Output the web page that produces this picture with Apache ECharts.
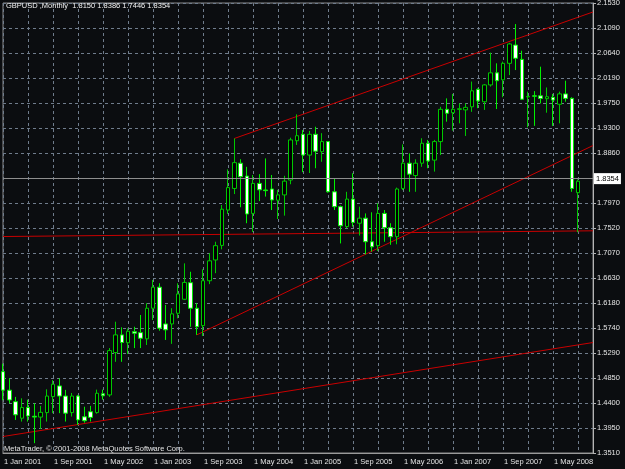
<!DOCTYPE html>
<html>
<head>
<meta charset="utf-8">
<title>GBPUSD Monthly</title>
<script src="https://cdn.jsdelivr.net/npm/echarts@6/dist/echarts.min.js"></script>
<style>
  html, body { margin: 0; padding: 0; background: #0b0d10; }
  #chart { width: 625px; height: 469px; }
</style>
</head>
<body>
<div id="chart"></div>
<script>
// monthly candles, Jan 2001 .. Sep 2008 (index = months since Jan 2001)
const opens = [
  1.4960, 1.4630, 1.4425, 1.4130, 1.4320, 1.4165, 1.4150, 1.4230, 1.4515, 1.4705, 1.4525, 1.4230,
  1.4525, 1.4155, 1.4245, 1.4230, 1.4565, 1.4545, 1.5300, 1.5615, 1.5475, 1.5672, 1.5655, 1.5545,
  1.6090, 1.6465, 1.5810, 1.5810, 1.6000, 1.6250, 1.6545, 1.6090, 1.5780, 1.6580, 1.6950, 1.7210,
  1.7840, 1.8225, 1.8675, 1.8445, 1.7780, 1.8315, 1.8198, 1.8215, 1.8015, 1.8110, 1.8375, 1.9075,
  1.9190, 1.8820, 1.9190, 1.8880, 1.9060, 1.8165, 1.7900, 1.7545, 1.8035, 1.7605, 1.7695, 1.7275,
  1.7205, 1.7780, 1.7525, 1.7365, 1.8225, 1.8675, 1.8455, 1.8675, 1.9030, 1.8730, 1.9060, 1.9635,
  1.9575, 1.9635, 1.9625, 1.9680, 1.9990, 1.9770, 2.0070, 2.0285, 2.0160, 2.0455, 2.0780, 2.0525,
  1.9855, 1.9875, 1.9875, 1.9825, 1.9850, 1.9725, 1.9910, 1.9830, 1.8150,
];
const closes = [
  1.4630, 1.4455, 1.4190, 1.4320, 1.4170, 1.4150, 1.4235, 1.4525, 1.4735, 1.4525, 1.4220, 1.4525,
  1.4100, 1.4085, 1.4145, 1.4575, 1.4530, 1.5335, 1.5615, 1.5480, 1.5680, 1.5645, 1.5555, 1.6090,
  1.6465, 1.5735, 1.5705, 1.5990, 1.6345, 1.6550, 1.6090, 1.5760, 1.6580, 1.6935, 1.7205, 1.7855,
  1.8240, 1.8685, 1.8435, 1.7770, 1.8315, 1.8200, 1.8186, 1.8020, 1.8110, 1.8355, 1.9090, 1.9165,
  1.8820, 1.9190, 1.8890, 1.9060, 1.8165, 1.7900, 1.7560, 1.8035, 1.7620, 1.7695, 1.7275, 1.7185,
  1.7780, 1.7525, 1.7365, 1.8215, 1.8675, 1.8480, 1.8675, 1.9030, 1.8715, 1.9060, 1.9635, 1.9565,
  1.9635, 1.9645, 1.9670, 1.9965, 1.9785, 2.0070, 2.0285, 2.0145, 2.0455, 2.0800, 2.0545, 1.9815,
  1.9865, 1.9870, 1.9830, 1.9860, 1.9800, 1.9910, 1.9830, 1.8225, 1.8354,
];
const lows = [
  1.4450, 1.4395, 1.4100, 1.4070, 1.4070, 1.3685, 1.3940, 1.4070, 1.4220, 1.4220, 1.4070, 1.4160,
  1.4010, 1.4050, 1.4070, 1.4210, 1.4460, 1.4510, 1.5135, 1.5135, 1.5275, 1.5380, 1.5380, 1.5435,
  1.5880, 1.5690, 1.5525, 1.5455, 1.5910, 1.6235, 1.5760, 1.5615, 1.5595, 1.6520, 1.6715, 1.7140,
  1.7770, 1.8125, 1.7890, 1.7605, 1.7450, 1.8000, 1.8080, 1.7840, 1.7680, 1.7740, 1.8300, 1.9000,
  1.8515, 1.8500, 1.8585, 1.8700, 1.8150, 1.7840, 1.7245, 1.7515, 1.7545, 1.7385, 1.7050, 1.7100,
  1.7110, 1.7275, 1.7220, 1.7230, 1.8195, 1.8165, 1.8165, 1.8610, 1.8585, 1.8525, 1.8820, 1.9415,
  1.9255, 1.9385, 1.9160, 1.9590, 1.9655, 1.9625, 2.0040, 1.9640, 1.9850, 2.0245, 2.0335, 1.9800,
  1.9315, 1.9340, 1.9740, 1.9575, 1.9340, 1.9385, 1.9770, 1.8165, 1.7446,
];
const highs = [
  1.5100, 1.4840, 1.4510, 1.4485, 1.4460, 1.4395, 1.4350, 1.4645, 1.4810, 1.4840, 1.4635, 1.4580,
  1.4545, 1.4335, 1.4350, 1.4640, 1.4640, 1.5380, 1.5850, 1.5750, 1.5730, 1.5760, 1.5970, 1.6180,
  1.6595, 1.6535, 1.6150, 1.6090, 1.6535, 1.6890, 1.6740, 1.6180, 1.6785, 1.7070, 1.7275, 1.7930,
  1.8565, 1.9115, 1.8745, 1.8610, 1.8465, 1.8480, 1.8760, 1.8465, 1.8200, 1.8450, 1.9130, 1.9545,
  1.9265, 1.9250, 1.9325, 1.9210, 1.9065, 1.8405, 1.7920, 1.8165, 1.8495, 1.7900, 1.7780, 1.7800,
  1.7960, 1.7840, 1.7605, 1.8240, 1.9010, 1.8850, 1.8745, 1.9120, 1.9090, 1.9090, 1.9680, 1.9830,
  1.9910, 1.9740, 1.9740, 2.0130, 2.0010, 2.0085, 2.0645, 2.0455, 2.0485, 2.0820, 2.1155, 2.0680,
  1.9950, 1.9960, 2.0395, 2.0025, 1.9910, 1.9950, 2.0145, 1.9850, 1.8386,
];

// axis labels
const xTickLabels = [
  '1 Jan 2001', '1 Sep 2001', '1 May 2002', '1 Jan 2003', '1 Sep 2003', '1 May 2004',
  '1 Jan 2005', '1 Sep 2005', '1 May 2006', '1 Jan 2007', '1 Sep 2007', '1 May 2008',
];
const yTickLabels = [
  '1.3510', '1.3950', '1.4400', '1.4850', '1.5290', '1.5740', '1.6180', '1.6630', '1.7070', '1.7520',
  '1.7970', '1.8410', '1.8860', '1.9300', '1.9750', '2.0190', '2.0640', '2.1090', '2.1530',
];

// trend lines, [month index, price]
const upperChannel = [[37, 1.9115], [94.4, 2.1370]];
const lowerChannel = [[31, 1.5615], [94.4, 1.8990]];
const flatLine = [[0, 1.7368], [94.4, 1.7470]];
const longSupport = [[0, 1.3804], [94.4, 1.5479]];

const lastPrice = 1.8354;

const FONT = 'Liberation Sans';
const TEXT = '#e4e4e4';
const GRID_LINE = {color: '#6f7c8c', type: [3, 3], width: 1};

const candles = opens.map((o, i) => [i, o, closes[i], lows[i], highs[i]]);

function trendSeries(data) {
  return {
    type: 'line',
    data: data,
    xAxisIndex: 0,
    yAxisIndex: 0,
    symbol: 'none',
    silent: true,
    animation: false,
    z: 3,
    lineStyle: {color: '#c80000', width: 1},
  };
}

const chart = echarts.init(document.getElementById('chart'));

const option = {
  backgroundColor: '#0b0d10',
  animation: false,
  title: [
    {
      text: 'GBPUSD ,Monthly  1.8150 1.8386 1.7446 1.8354',
      left: 6,
      top: 2,
      padding: 0,
      textStyle: {color: '#f0f0f0', fontFamily: FONT, fontSize: 7.5, fontWeight: 'normal'},
    },
    {
      text: 'MetaTrader, © 2001-2008 MetaQuotes Software Corp.',
      left: 4,
      top: 445,
      padding: 0,
      textStyle: {color: TEXT, fontFamily: FONT, fontSize: 7.5, fontWeight: 'normal'},
    },
  ],
  grid: {
    left: 3,
    right: 32,
    top: 3,
    bottom: 16,
    show: true,
    borderColor: '#8c8c8c',
    borderWidth: 1,
    outerBoundsMode: 'none',
  },
  xAxis: {
    type: 'value',
    min: 0,
    max: 94.4,
    interval: 4,
    axisLine: {show: true, lineStyle: {color: '#9a9a9a'}},
    axisTick: {show: false},
    splitLine: {show: true, lineStyle: GRID_LINE},
    axisLabel: {
      color: TEXT,
      fontFamily: FONT,
      fontSize: 7.5,
      align: 'left',
      margin: 5,
      padding: [0, 0, 0, 1],
      showMaxLabel: false,
      formatter(value) {
        return value % 8 === 0 ? xTickLabels[value / 8] || '' : '';
      },
    },
  },
  yAxis: [
    {
      // price scale used by the marks
      type: 'value',
      position: 'left',
      min: 1.351,
      max: 2.153,
      show: false,
      splitLine: {show: false},
    },
    {
      // tick scale: one step per printed price level
      type: 'value',
      position: 'right',
      min: 0,
      max: 18,
      interval: 1,
      axisLine: {show: true, lineStyle: {color: '#b4b4b4'}},
      axisTick: {show: true, length: 3, lineStyle: {color: '#b4b4b4'}},
      splitLine: {show: true, lineStyle: GRID_LINE},
      axisLabel: {
        color: TEXT,
        fontFamily: FONT,
        fontSize: 7.5,
        margin: 4,
        formatter(value) {
          return yTickLabels[value] || '';
        },
      },
    },
  ],
  series: [
    trendSeries(longSupport),
    trendSeries(flatLine),
    trendSeries(lowerChannel),
    trendSeries(upperChannel),
    {
      type: 'candlestick',
      xAxisIndex: 0,
      yAxisIndex: 0,
      data: candles,
      encode: {x: 0, y: [1, 2, 3, 4]},
      barWidth: 4,
      clip: false,
      z: 4,
      itemStyle: {
        color: '#000000',
        color0: '#ffffff',
        borderColor: '#00c800',
        borderColor0: '#00f000',
        borderWidth: 1,
      },
      markLine: {
        silent: true,
        symbol: 'none',
        animation: false,
        lineStyle: {color: '#8e8e8e', type: 'solid', width: 1},
        label: {
          show: true,
          position: 'end',
          distance: 1,
          formatter: lastPrice.toFixed(4),
          color: '#000',
          backgroundColor: '#ffffff',
          fontFamily: FONT,
          fontSize: 7.5,
          padding: [2, 2, 1, 2],
        },
        data: [{yAxis: lastPrice}],
      },
    },
  ],
};

chart.setOption(option);
</script>
</body>
</html>
